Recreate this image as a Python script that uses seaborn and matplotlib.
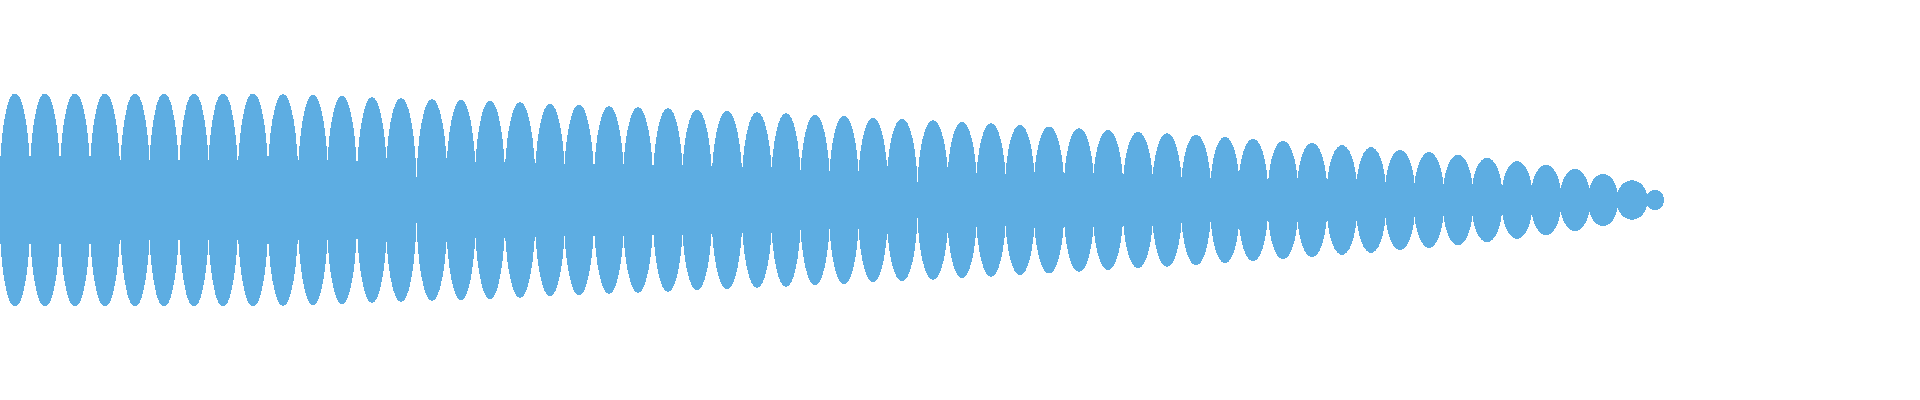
import numpy as np
import matplotlib.pyplot as plt
import seaborn as sns
from matplotlib.patches import Ellipse
from matplotlib.collections import PatchCollection

# peak position and half-height of every lobe
peak_t = [15, 45, 75, 105, 135, 164, 194, 223, 253, 283, 313, 342, 372, 401,
          432, 461, 490, 520, 550, 579, 609, 638, 668, 697, 727, 757, 786, 815,
          844, 873, 902, 933, 962, 991, 1020, 1049, 1079, 1108, 1138, 1167, 1196,
          1225, 1253, 1283, 1312, 1342, 1371, 1400, 1429, 1458, 1487, 1517, 1546,
          1575, 1603, 1632, 1655]
peak_amp = [106, 106, 106, 106, 106, 106, 106, 106, 106, 105.2, 104.5, 103.5,
            102.2, 101.2, 100.2, 99.5, 98.5, 97.2, 95.5, 94.5, 93.2, 92.2, 91.2,
            89.5, 88.5, 87.2, 86.2, 84.5, 83.5, 81.5, 80.5, 79.2, 77.5, 76.2, 74.5,
            72.8, 71.2, 69.5, 67.5, 66.2, 64.5, 62.5, 60.5, 58.5, 56.5, 54.2, 52.2,
            49.5, 47.2, 44.5, 41.5, 38.2, 34.5, 30.5, 25.5, 19.2, 9.5]

sns.set_style("white")

t = np.array(peak_t, dtype=float)
amp = np.array(peak_amp, dtype=float)

# lobes overlap their neighbours a little, which gives the thin neck between them
w = np.empty_like(t)
w[:-1] = 1.03 * np.gradient(t[:-1])
# the last lobe is a short half cycle squeezed against the one before
w[-1] = 2 * (t[-1] - t[-2] - w[-2] / 2) + 1

fig = plt.figure(figsize=(19.2, 4), dpi=100)
ax = fig.add_axes([0, 0, 1, 1])

lobes = [Ellipse((x, 0), wi, 2 * a) for x, wi, a in zip(t, w, amp)]
ax.add_collection(PatchCollection(lobes, facecolor="#5dade2", edgecolor="none",
                                  antialiased=False))

ax.set_xlim(0, 1920)
ax.set_ylim(-200, 200)
ax.axis("off")

fig.savefig("out.png", dpi=100)
